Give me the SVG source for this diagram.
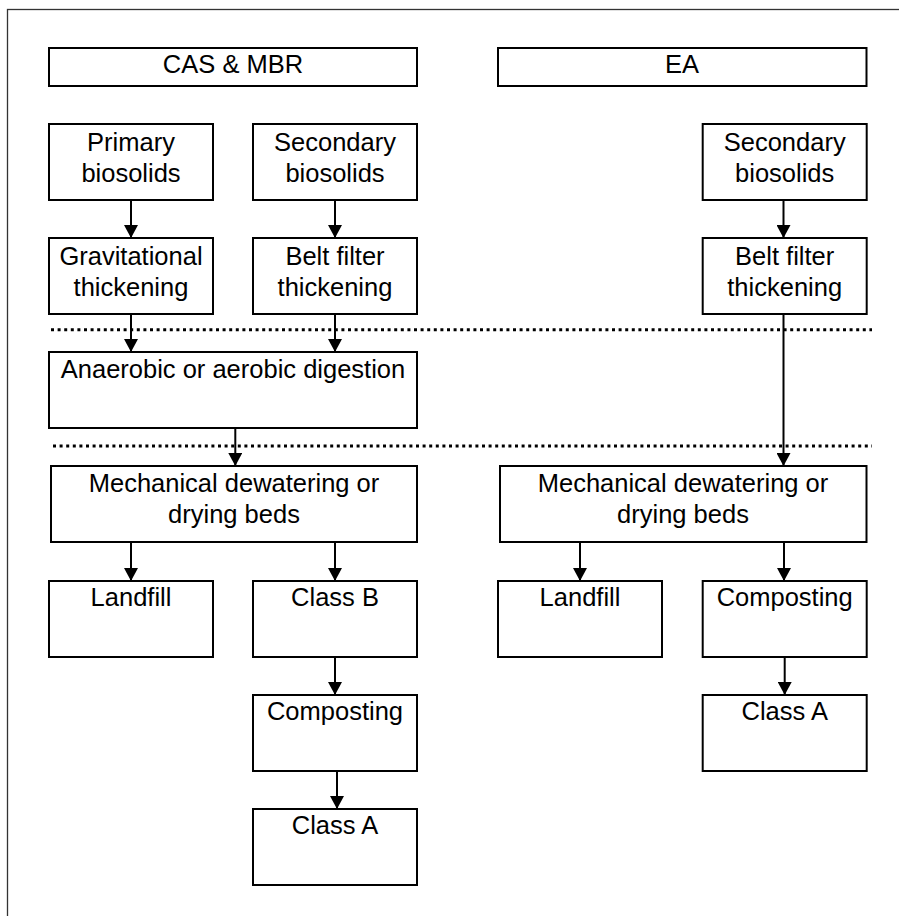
<svg xmlns="http://www.w3.org/2000/svg" width="899" height="916" viewBox="0 0 899 916">
<defs>
<style>
.box{fill:#fff;stroke:#000;stroke-width:2}
.t{font-family:"Liberation Sans",Arial,sans-serif;font-size:25.5px;fill:#000;text-anchor:middle}
.conn{stroke:#000;stroke-width:2;fill:none;marker-end:url(#ah)}
.dot{stroke:#000;stroke-width:3;stroke-dasharray:3 3.6;fill:none}
.frame{fill:none;stroke:#333;stroke-width:1.3}
</style>
<marker id="ah" markerUnits="userSpaceOnUse" markerWidth="13" markerHeight="14" refX="13" refY="7" orient="auto" viewBox="0 0 13 14">
<path d="M0,0 L13,7 L0,14 z" fill="#000"/>
</marker>
</defs>
<rect width="899" height="916" fill="#fff"/>
<rect class="frame" x="7.5" y="9.5" width="1000" height="1000"/>

<g id="dividers">
<line class="dot" x1="51" y1="329.8" x2="872" y2="329.8"/>
<line class="dot" x1="53" y1="446" x2="872" y2="446"/>
</g>

<g id="cas-mbr"><rect class="box" x="49" y="48" width="368" height="38"/><text class="t" x="233" y="72.7">CAS &amp; MBR</text></g>
<g id="ea"><rect class="box" x="498" y="48" width="368.5" height="38"/><text class="t" x="682" y="72.7">EA</text></g>

<g id="primary"><rect class="box" x="49" y="124" width="164" height="76"/><text class="t" x="131" y="150.7">Primary<tspan x="131" dy="31">biosolids</tspan></text></g>
<g id="secondary"><rect class="box" x="253" y="124" width="164" height="76"/><text class="t" x="335" y="150.7">Secondary<tspan x="335" dy="31">biosolids</tspan></text></g>
<g id="ea-secondary"><rect class="box" x="702.7" y="124" width="164" height="76"/><text class="t" x="784.7" y="150.7">Secondary<tspan x="784.7" dy="31">biosolids</tspan></text></g>

<g id="gravitational"><rect class="box" x="49" y="238" width="164" height="76"/><text class="t" x="131" y="264.5">Gravitational<tspan x="131" dy="31">thickening</tspan></text></g>
<g id="belt"><rect class="box" x="253" y="238" width="164" height="76"/><text class="t" x="335" y="264.5">Belt filter<tspan x="335" dy="31">thickening</tspan></text></g>
<g id="ea-belt"><rect class="box" x="702.7" y="238" width="164" height="76"/><text class="t" x="784.7" y="264.5">Belt filter<tspan x="784.7" dy="31">thickening</tspan></text></g>

<g id="digestion"><rect class="box" x="49" y="352" width="368" height="76"/><text class="t" x="233" y="378.3">Anaerobic or aerobic digestion</text></g>

<g id="dewater-left"><rect class="box" x="51" y="466" width="366" height="76"/><text class="t" x="234" y="491.7">Mechanical dewatering or<tspan x="234" dy="31.5">drying beds</tspan></text></g>
<g id="dewater-right"><rect class="box" x="500" y="466" width="366.5" height="76"/><text class="t" x="683" y="491.7">Mechanical dewatering or<tspan x="683" dy="31.5">drying beds</tspan></text></g>

<g id="landfill-left"><rect class="box" x="49" y="581" width="164" height="76"/><text class="t" x="131" y="605.7">Landfill</text></g>
<g id="class-b"><rect class="box" x="253" y="581" width="164" height="76"/><text class="t" x="335" y="605.7">Class B</text></g>
<g id="landfill-right"><rect class="box" x="498" y="581" width="164" height="76"/><text class="t" x="580" y="605.7">Landfill</text></g>
<g id="composting-right"><rect class="box" x="702.7" y="581" width="164" height="76"/><text class="t" x="784.7" y="605.7">Composting</text></g>

<g id="composting-left"><rect class="box" x="253" y="695" width="164" height="76"/><text class="t" x="335" y="719.5">Composting</text></g>
<g id="class-a-right"><rect class="box" x="702.7" y="695" width="164" height="76"/><text class="t" x="784.7" y="719.5">Class A</text></g>
<g id="class-a-left"><rect class="box" x="253" y="809" width="164" height="76"/><text class="t" x="335" y="833.5">Class A</text></g>

<g id="connectors">
<line class="conn" x1="131" y1="200" x2="131" y2="238"/>
<line class="conn" x1="335" y1="200" x2="335" y2="238"/>
<line class="conn" x1="783.5" y1="200" x2="783.5" y2="238"/>
<line class="conn" x1="131" y1="314" x2="131" y2="352"/>
<line class="conn" x1="335" y1="314" x2="335" y2="352"/>
<line class="conn" x1="783.5" y1="314" x2="783.5" y2="466"/>
<line class="conn" x1="235.3" y1="428" x2="235.3" y2="466"/>
<line class="conn" x1="131" y1="542" x2="131" y2="581"/>
<line class="conn" x1="335" y1="542" x2="335" y2="581"/>
<line class="conn" x1="580" y1="542" x2="580" y2="581"/>
<line class="conn" x1="784" y1="542" x2="784" y2="581"/>
<line class="conn" x1="335" y1="657" x2="335" y2="695"/>
<line class="conn" x1="337" y1="771" x2="337" y2="809"/>
<line class="conn" x1="784.7" y1="657" x2="784.7" y2="695"/>
</g>
</svg>
